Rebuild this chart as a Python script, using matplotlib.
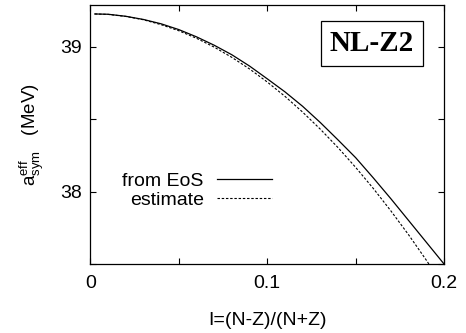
import matplotlib
matplotlib.use('Agg')
import matplotlib.pyplot as plt
from matplotlib.ticker import MultipleLocator

plt.rcParams['font.family'] = 'Liberation Sans'
plt.rcParams['mathtext.fontset'] = 'custom'
plt.rcParams['mathtext.rm'] = 'Liberation Sans'
plt.rcParams['mathtext.it'] = 'Liberation Sans:italic'

# asymmetry I = (N-Z)/(N+Z)
asym = [0.0025, 0.01, 0.02, 0.03, 0.04, 0.05, 0.06, 0.07, 0.08, 0.09, 0.10,
        0.11, 0.12, 0.13, 0.14, 0.15, 0.16, 0.17, 0.18, 0.19, 0.20]
# effective symmetry energy (MeV)
from_eos = [39.228, 39.226, 39.212, 39.19, 39.16, 39.12, 39.07, 39.012, 38.946, 38.868, 38.78,
            38.69, 38.59, 38.478, 38.358, 38.235, 38.095, 37.95, 37.80, 37.65, 37.50]
estimate = [39.228, 39.225, 39.211, 39.188, 39.154, 39.112, 39.06, 38.999, 38.928, 38.848, 38.758,
            38.659, 38.55, 38.432, 38.305, 38.168, 38.022, 37.866, 37.701, 37.526, 37.342]

xticks = [0, 0.1, 0.2]
yticks = [38, 39]

fig = plt.figure(figsize=(4.66, 3.33), dpi=100)
ax = fig.add_axes([0.194, 0.207, 0.759, 0.778])

ax.plot(asym, from_eos, color='black', lw=0.9, label='from EoS')
ax.plot(asym, estimate, color='black', lw=0.8, linestyle=(0, (2.2, 1.6)), label='estimate')

ax.set_xlim(0, 0.2)
ax.set_ylim(37.5, 39.29)
ax.set_xticks(xticks)
ax.set_xticklabels(['0', '0.1', '0.2'])
ax.set_yticks(yticks)
ax.xaxis.set_minor_locator(MultipleLocator(0.05))
ax.yaxis.set_minor_locator(MultipleLocator(0.5))
ax.tick_params(which='both', direction='in', top=True, right=True, length=4.5, width=0.8)
ax.tick_params(axis='x', labelsize=14, pad=8)
ax.tick_params(axis='y', labelsize=14, pad=6)
for s in ax.spines.values():
    s.set_linewidth(0.9)

ax.set_xlabel('I=(N-Z)/(N+Z)', fontsize=14, labelpad=14)
ax.set_ylabel(r'$\mathrm{a}_{\mathrm{sym}}^{\mathrm{eff}}$   (MeV)', fontsize=13.5, labelpad=10)

ax.legend(loc='center right', bbox_to_anchor=(0.513, 0.284), frameon=False, markerfirst=False,
          fontsize=14, handlelength=2.8, handletextpad=0.7, labelspacing=0.05,
          borderpad=0, borderaxespad=0)

ax.text(0.796, 0.851, 'NL-Z2', transform=ax.transAxes, ha='center', va='center',
        fontsize=21, fontweight='bold', family='Liberation Serif',
        bbox=dict(boxstyle='square,pad=0.3', fc='white', ec='black', lw=0.9))

fig.savefig('out.png', dpi=100)
